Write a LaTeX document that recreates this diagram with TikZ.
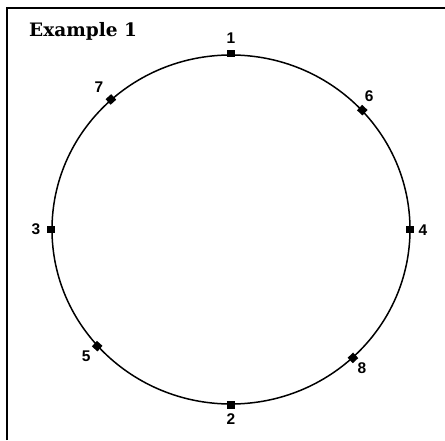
\documentclass[tikz,border=0pt]{standalone}
\usepackage{fontspec}
\usetikzlibrary{calc}
\newfontfamily\titlefont{DejaVu Serif}
\newfontfamily\numfont{Liberation Sans}
\begin{document}
\begin{tikzpicture}[x=1pt,y=1pt,
  dot/.style={fill=black,inner sep=0pt,minimum size=7.5pt,rectangle},
  lbl/.style={font=\numfont\bfseries\fontsize{15.5}{16}\selectfont,inner sep=0pt},
  frame/.style={line width=2.6pt},
  ring/.style={line width=1.5pt}]
\useasboundingbox (0,0) rectangle (445,440);
\coordinate (c) at (231,210.5);
\draw[frame] (7,0) coordinate (fa) -- (7,432) coordinate (fb) -- (445,432) coordinate (fc);
\draw[ring] (c) ellipse [x radius=179pt, y radius=174.5pt];
\node[anchor=base west,inner sep=0pt,font=\titlefont\bfseries\fontsize{18.5}{19}\selectfont] (title) at (29,403) {Example 1};
% dots
\node[dot,rotate=0]   (p1) at ($(c)+(90:179pt and 176pt)$) {};
\node[dot,rotate=0]   (p2) at ($(c)+(270:179pt and 175.5pt)$) {};
\node[dot,rotate=0]   (p3) at ($(c)+(180:180pt and 174.5pt)$) {};
\node[dot,rotate=0]   (p4) at ($(c)+(0:179pt and 174.5pt)$) {};
\node[dot,rotate=42]  (p7) at ($(c)+(132:179.5pt and 175pt)$) {};
\node[dot,rotate=-43] (p6) at ($(c)+(43:179.5pt and 175pt)$) {};
\node[dot,rotate=-42] (p5) at ($(c)+(221.8:179.5pt and 175pt)$) {};
\node[dot,rotate=43]  (p8) at ($(c)+(312.8:179.5pt and 175pt)$) {};
% labels
\node[lbl] (l1) at ($(p1)+(0,15)$) {1};
\node[lbl] (l2) at ($(p2)+(0,-14)$) {2};
\node[lbl] (l3) at ($(p3)+(-15,0)$) {3};
\node[lbl] (l4) at ($(p4)+(13,-1)$) {4};
\node[lbl] (l7) at ($(p7)+(-12,12)$) {7};
\node[lbl] (l6) at ($(p6)+(7,14)$) {6};
\node[lbl] (l5) at ($(p5)+(-11,-10)$) {5};
\node[lbl] (l8) at ($(p8)+(9,-10)$) {8};
\end{tikzpicture}
\end{document}
